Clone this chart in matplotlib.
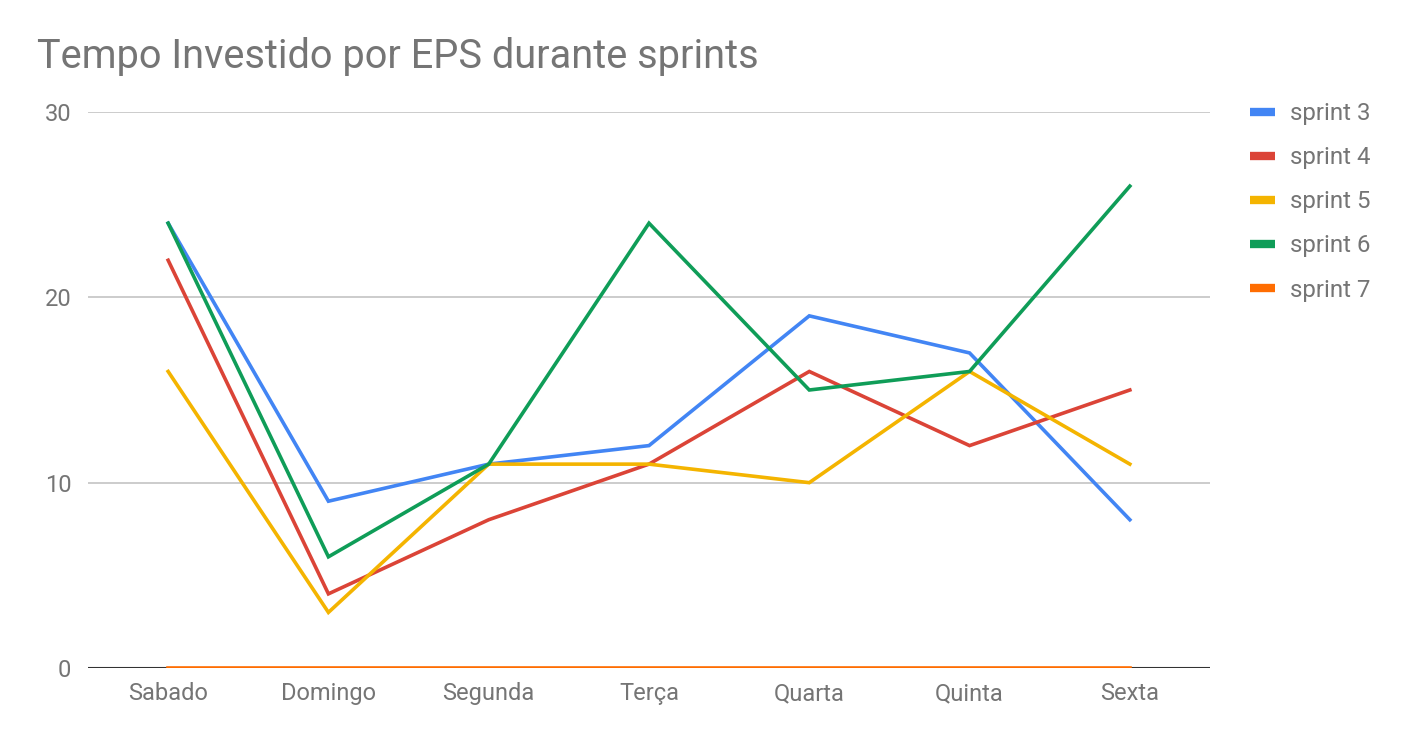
import matplotlib.pyplot as plt

plt.rcParams['font.family'] = ['Roboto', 'DejaVu Sans']

days = ['Sabado', 'Domingo', 'Segunda', 'Terça', 'Quarta', 'Quinta', 'Sexta']
sprint3 = [24, 9, 11, 12, 19, 17, 8]
sprint4 = [22, 4, 8, 11, 16, 12, 15]
sprint5 = [16, 3, 11, 11, 10, 16, 11]
sprint6 = [24, 6, 11, 24, 15, 16, 26]
sprint7 = [0, 0, 0, 0, 0, 0, 0]
yticks = [0, 10, 20, 30]

series = [
    ('sprint 3', sprint3, '#4285F4'),
    ('sprint 4', sprint4, '#DB4437'),
    ('sprint 5', sprint5, '#F4B400'),
    ('sprint 6', sprint6, '#0F9D58'),
    ('sprint 7', sprint7, '#FF6D01'),
]

fig = plt.figure(figsize=(14.04, 7.4), dpi=100)
ax = fig.add_axes([88 / 1404, 72 / 740, (1210 - 88) / 1404, (668 - 112) / 740])

x = list(range(len(days)))
for label, vals, col in series:
    ax.plot(x, vals, color=col, lw=2.6, label=label, zorder=3,
            solid_joinstyle='miter')

ax.set_xlim(-0.5, len(days) - 0.5)
ax.set_ylim(0, 30)
ax.set_yticks(yticks)
ax.set_xticks(x)
ax.set_xticklabels(days)
ax.grid(axis='y', color='#cccccc', lw=1.4)
ax.axhline(0, color='#333333', lw=1.5, zorder=2)
for s in ax.spines.values():
    s.set_visible(False)
ax.tick_params(length=0, labelsize=17, colors='#757575')
ax.tick_params(axis='y', pad=12)
ax.tick_params(axis='x', pad=10)

fig.text(37 / 1404, 1 - 57 / 740, 'Tempo Investido por EPS durante sprints',
         fontsize=28.6, color='#757575', va='center', ha='left')

leg = ax.legend(loc='upper left', bbox_to_anchor=(1250 / 1404, 1 - 102 / 740),
                bbox_transform=fig.transFigure, frameon=False, fontsize=17.3,
                handlelength=1.05, handletextpad=0.6, labelspacing=0.88,
                borderaxespad=0, borderpad=0)
for h in leg.get_lines():
    h.set_linewidth(6)
    h.set_solid_capstyle('butt')
for t in leg.get_texts():
    t.set_color('#757575')

plt.savefig('out.png', dpi=100)
